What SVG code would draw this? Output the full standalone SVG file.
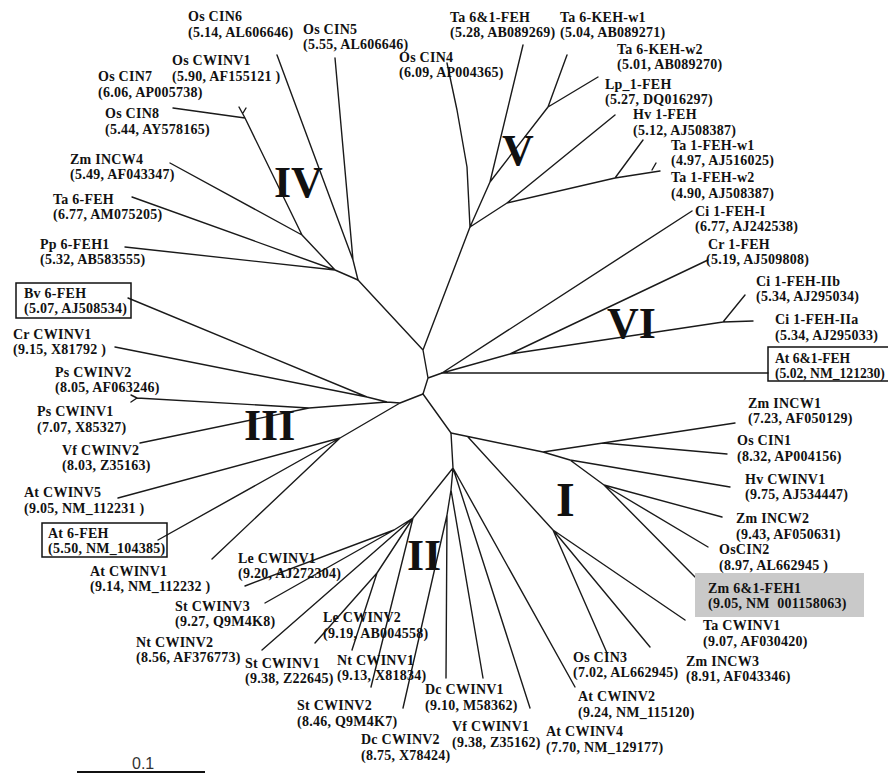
<svg xmlns="http://www.w3.org/2000/svg" width="888" height="776" viewBox="0 0 888 776">
<style>
.t{font-family:"Liberation Serif","Times New Roman",serif;font-weight:bold;font-size:14px;letter-spacing:0.25px;fill:#111}
.r{font-family:"Liberation Serif","Times New Roman",serif;font-weight:bold;font-size:44px;fill:#111}
.br{fill:none;stroke:#1a1a1a;stroke-width:1.4;stroke-linecap:round;stroke-linejoin:round}
.bx{fill:none;stroke:#111;stroke-width:1.5}
</style>
<rect x="0" y="0" width="888" height="776" fill="#fff"/>
<g id="branches" class="br">
<path d="M423,350 L428,378 L423,394 M423,350 L358,280 M423,350 L470,227 M428,378 L442,373"/>
<path d="M442,373 L692,211 M442,373 L510,354 M510,354 L708,260 M510,354 L723,322 M723,322 L753,321 M723,322 L745,295 M442,373 L768,373"/>
<path d="M423,394 L400,403 L387,402 L367,397 M367,397 L128,298 M367,397 L115,347 M387,402 L309,408 M309,408 L137,398 M137,398 L131,395 M137,398 L131,402 M309,408 L140,443 M400,403 L340,438 M340,438 L118,498 M340,438 L158,540 M340,438 L212,559"/>
<path d="M423,394 L451,433 L543,452 L603,443 M603,443 L735,423 M603,443 L727,454 M543,452 L570,460 M570,460 L730,487 M570,460 L604,485 M604,485 L722,517 M604,485 L708,547 M604,485 L695,577 M468,437 L553,530 M553,530 L685,620 M553,530 L650,647 M553,530 L607,653"/>
<path d="M451,433 L453,468 M453,468 L575,687 M453,468 L530,708 M453,468 L451,490 M451,490 L483,678 M451,490 L447,515 M447,515 L446,678 M447,515 L403,708 M453,468 L413,518 M413,518 L394,530 M394,530 L245,586 M394,530 L265,603 M413,518 L262,650 M413,518 L377,573 M377,573 L315,643 M377,573 L352,650 M413,518 L371,687"/>
<path d="M358,280 L353,260 M353,260 L277,55 M353,260 L335,58 M358,280 L335,270 M335,270 L132,197 M335,270 L125,247 M335,270 L302,235 M302,235 L170,163 M302,235 L245,118 M245,118 L173,108 M245,118 L239,107 M243,113 L246,108"/>
<path d="M470,227 L467,167 L457,110 L447,63 M470,227 L490,182 M490,182 L523,45 M490,182 L548,107 M548,107 L567,55 M548,107 L598,77 M470,227 L507,203 M507,203 L615,115 M507,203 L615,178 M615,178 L643,140 M615,178 L660,171 M652,170 L656,163"/>
</g>
<g id="clades">
<text class="r" x="274" y="197">IV</text>
<text class="r" x="502" y="165">V</text>
<text class="r" x="607" y="338">VI</text>
<text class="r" x="244" y="440">III</text>
<text class="r" x="407" y="570">II</text>
<text class="r" x="556" y="516" style="font-size:48px">I</text>
</g>
<g id="n_OsCIN6"><text class="t"><tspan x="188" y="21">Os CIN6</tspan><tspan x="188" y="36.5">(5.14, AL606646)</tspan></text></g>
<g id="n_OsCIN5"><text class="t"><tspan x="303" y="33.5">Os CIN5</tspan><tspan x="303" y="49">(5.55, AL606646)</tspan></text></g>
<g id="n_OsCWINV1"><text class="t"><tspan x="172" y="65">Os CWINV1</tspan><tspan x="172" y="80.5">(5.90, AF155121 )</tspan></text></g>
<g id="n_OsCIN7"><text class="t"><tspan x="98" y="81">Os CIN7</tspan><tspan x="98" y="96.5">(6.06, AP005738)</tspan></text></g>
<g id="n_OsCIN8"><text class="t"><tspan x="105" y="118">Os CIN8</tspan><tspan x="105" y="133.5">(5.44, AY578165)</tspan></text></g>
<g id="n_ZmINCW4"><text class="t"><tspan x="70" y="163.5">Zm INCW4</tspan><tspan x="70" y="179">(5.49, AF043347)</tspan></text></g>
<g id="n_Ta6FEH"><text class="t"><tspan x="53" y="203.5">Ta 6-FEH</tspan><tspan x="53" y="219">(6.77, AM075205)</tspan></text></g>
<g id="n_Pp6FEH1"><text class="t"><tspan x="40" y="248.5">Pp 6-FEH1</tspan><tspan x="40" y="264">(5.32, AB583555)</tspan></text></g>
<g id="n_Bv6FEH"><rect class="bx" x="16" y="283" width="115" height="35"/><text class="t"><tspan x="24" y="297.5">Bv 6-FEH</tspan><tspan x="24" y="313">(5.07, AJ508534)</tspan></text></g>
<g id="n_CrCWINV1"><text class="t"><tspan x="13" y="338.5">Cr CWINV1</tspan><tspan x="13" y="354">(9.15, X81792 )</tspan></text></g>
<g id="n_PsCWINV2"><text class="t"><tspan x="55" y="376.5">Ps CWINV2</tspan><tspan x="55" y="392">(8.05, AF063246)</tspan></text></g>
<g id="n_PsCWINV1"><text class="t"><tspan x="37" y="416">Ps CWINV1</tspan><tspan x="37" y="431.5">(7.07, X85327)</tspan></text></g>
<g id="n_VfCWINV2"><text class="t"><tspan x="62" y="454.5">Vf CWINV2</tspan><tspan x="62" y="470">(8.03, Z35163)</tspan></text></g>
<g id="n_AtCWINV5"><text class="t"><tspan x="24" y="497">At CWINV5</tspan><tspan x="24" y="512.5">(9.05, NM_112231 )</tspan></text></g>
<g id="n_At6FEH"><rect class="bx" x="42" y="523" width="125" height="34"/><text class="t"><tspan x="48" y="537.5">At 6-FEH</tspan><tspan x="48" y="553">(5.50, NM_104385)</tspan></text></g>
<g id="n_AtCWINV1"><text class="t"><tspan x="90" y="575.5">At CWINV1</tspan><tspan x="90" y="591">(9.14, NM_112232 )</tspan></text></g>
<g id="n_LeCWINV1"><text class="t"><tspan x="238" y="562.5">Le CWINV1</tspan><tspan x="238" y="578">(9.20, AJ272304)</tspan></text></g>
<g id="n_StCWINV3"><text class="t"><tspan x="175" y="610.5">St CWINV3</tspan><tspan x="175" y="626">(9.27, Q9M4K8)</tspan></text></g>
<g id="n_NtCWINV2"><text class="t"><tspan x="136" y="646.5">Nt CWINV2</tspan><tspan x="136" y="662">(8.56, AF376773)</tspan></text></g>
<g id="n_StCWINV1"><text class="t"><tspan x="245" y="667.5">St CWINV1</tspan><tspan x="245" y="683">(9.38, Z22645)</tspan></text></g>
<g id="n_LeCWINV2"><text class="t"><tspan x="323" y="622">Le CWINV2</tspan><tspan x="323" y="637.5">(9.19, AB004558)</tspan></text></g>
<g id="n_NtCWINV1"><text class="t"><tspan x="337" y="664.5">Nt CWINV1</tspan><tspan x="337" y="680">(9.13, X81834)</tspan></text></g>
<g id="n_StCWINV2"><text class="t"><tspan x="297" y="710">St CWINV2</tspan><tspan x="297" y="725.5">(8.46, Q9M4K7)</tspan></text></g>
<g id="n_DcCWINV2"><text class="t"><tspan x="361" y="744">Dc CWINV2</tspan><tspan x="361" y="759.5">(8.75, X78424)</tspan></text></g>
<g id="n_DcCWINV1"><text class="t"><tspan x="425" y="694">Dc CWINV1</tspan><tspan x="425" y="709.5">(9.10, M58362)</tspan></text></g>
<g id="n_VfCWINV1"><text class="t"><tspan x="452" y="731">Vf CWINV1</tspan><tspan x="452" y="746.5">(9.38, Z35162)</tspan></text></g>
<g id="n_AtCWINV4"><text class="t"><tspan x="546" y="736">At CWINV4</tspan><tspan x="546" y="751.5">(7.70, NM_129177)</tspan></text></g>
<g id="n_AtCWINV2"><text class="t"><tspan x="578" y="701">At CWINV2</tspan><tspan x="578" y="716.5">(9.24, NM_115120)</tspan></text></g>
<g id="n_OsCIN3"><text class="t"><tspan x="573" y="661.5">Os CIN3</tspan><tspan x="573" y="677">(7.02, AL662945)</tspan></text></g>
<g id="n_ZmINCW3"><text class="t"><tspan x="686" y="665.5">Zm INCW3</tspan><tspan x="686" y="681">(8.91, AF043346)</tspan></text></g>
<g id="n_TaCWINV1"><text class="t"><tspan x="703" y="630">Ta CWINV1</tspan><tspan x="703" y="645.5">(9.07, AF030420)</tspan></text></g>
<g id="n_Zm61FEH1"><rect x="695" y="573" width="169" height="44" fill="#c9c9c9"/><text class="t"><tspan x="708" y="592.5">Zm 6&amp;1-FEH1</tspan><tspan x="708" y="608">(9.05, NM&#160;&#160;001158063)</tspan></text></g>
<g id="n_OsCIN2"><text class="t"><tspan x="719" y="554">OsCIN2</tspan><tspan x="719" y="569.5">(8.97, AL662945 )</tspan></text></g>
<g id="n_ZmINCW2"><text class="t"><tspan x="736" y="523">Zm INCW2</tspan><tspan x="736" y="538.5">(9.43, AF050631)</tspan></text></g>
<g id="n_HvCWINV1"><text class="t"><tspan x="745" y="483.5">Hv CWINV1</tspan><tspan x="745" y="499">(9.75, AJ534447)</tspan></text></g>
<g id="n_OsCIN1"><text class="t"><tspan x="737" y="445">Os CIN1</tspan><tspan x="737" y="460.5">(8.32, AP004156)</tspan></text></g>
<g id="n_ZmINCW1"><text class="t"><tspan x="748" y="407.5">Zm INCW1</tspan><tspan x="748" y="423">(7.23, AF050129)</tspan></text></g>
<g id="n_At61FEH"><rect class="bx" x="768" y="347" width="130" height="34"/><text class="t" style="font-size:13.6px;letter-spacing:0"><tspan x="775" y="362.5">At 6&amp;1-FEH</tspan><tspan x="775" y="378">(5.02, NM_121230)</tspan></text></g>
<g id="n_Ci1FEHIIa"><text class="t"><tspan x="775" y="324">Ci 1-FEH-IIa</tspan><tspan x="775" y="339.5">(5.34, AJ295033)</tspan></text></g>
<g id="n_Ci1FEHIIb"><text class="t"><tspan x="756" y="285.5">Ci 1-FEH-IIb</tspan><tspan x="756" y="301">(5.34, AJ295034)</tspan></text></g>
<g id="n_Cr1FEH"><text class="t"><tspan x="708" y="248.5">Cr 1-FEH</tspan><tspan x="706" y="264">(5.19, AJ509808)</tspan></text></g>
<g id="n_Ci1FEHI"><text class="t"><tspan x="695" y="215.5">Ci 1-FEH-I</tspan><tspan x="695" y="231">(6.77, AJ242538)</tspan></text></g>
<g id="n_Ta1FEHw2"><text class="t"><tspan x="671" y="182">Ta 1-FEH-w2</tspan><tspan x="671" y="197.5">(4.90, AJ508387)</tspan></text></g>
<g id="n_Ta1FEHw1"><text class="t"><tspan x="671" y="149.5">Ta 1-FEH-w1</tspan><tspan x="671" y="165">(4.97, AJ516025)</tspan></text></g>
<g id="n_Hv1FEH"><text class="t"><tspan x="633" y="119">Hv 1-FEH</tspan><tspan x="633" y="134.5">(5.12, AJ508387)</tspan></text></g>
<g id="n_Lp1FEH"><text class="t"><tspan x="605" y="88.5">Lp_1-FEH</tspan><tspan x="605" y="104">(5.27, DQ016297)</tspan></text></g>
<g id="n_Ta6KEHw2"><text class="t"><tspan x="617" y="53.5">Ta 6-KEH-w2</tspan><tspan x="617" y="69">(5.01, AB089270)</tspan></text></g>
<g id="n_Ta6KEHw1"><text class="t"><tspan x="560" y="21.5">Ta 6-KEH-w1</tspan><tspan x="560" y="37">(5.04, AB089271)</tspan></text></g>
<g id="n_Ta61FEH"><text class="t"><tspan x="450" y="21.5">Ta 6&amp;1-FEH</tspan><tspan x="450" y="37">(5.28, AB089269)</tspan></text></g>
<g id="n_OsCIN4"><text class="t"><tspan x="399" y="61.5">Os CIN4</tspan><tspan x="399" y="77">(6.09, AP004365)</tspan></text></g>
<g id="scale"><line x1="77" y1="772" x2="205" y2="772" stroke="#111" stroke-width="2"/><text x="132" y="769" style="font-family:'Liberation Sans',Arial,sans-serif;font-size:16px;fill:#333">0.1</text></g>
</svg>
